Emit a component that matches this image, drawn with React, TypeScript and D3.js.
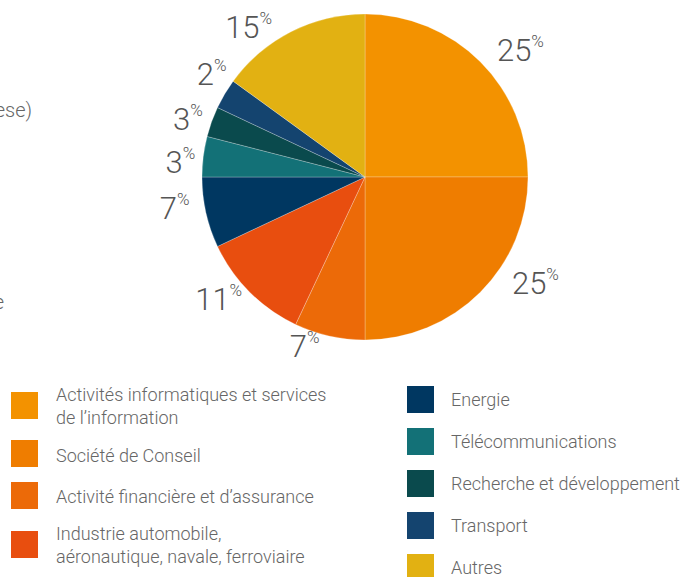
import React from "react";
import * as d3 from "d3";

const categories = [
  "Activités informatiques et services de l’information",
  "Société de Conseil",
  "Activité financière et d’assurance",
  "Industrie automobile, aéronautique, navale, ferroviaire",
  "Energie",
  "Télécommunications",
  "Recherche et développement",
  "Transport",
  "Autres",
];
const values = [25, 25, 7, 11, 7, 4, 3, 3, 15];
const labels = ["25", "25", "7", "11", "7", "3", "3", "2", "15"];
const colors = [
  "#F39200",
  "#EF7D00",
  "#EC6A08",
  "#E84E0F",
  "#003761",
  "#137177",
  "#0A4A4D",
  "#14446F",
  "#E2B112",
];
const legendLeftLines = [
  ["Activités informatiques et services", "de l’information"],
  ["Société de Conseil"],
  ["Activité financière et d’assurance"],
  ["Industrie automobile,", "aéronautique, navale, ferroviaire"],
];
const legendRightLines = [
  ["Energie"],
  ["Télécommunications"],
  ["Recherche et développement"],
  ["Transport"],
  ["Autres"],
];

// label layout tweaks (degrees / radius)
const labelAngleShift = [6, -13, 7, 5, 3, -3, -2, 3, -11];
const labelRadius = [200, 201, 180, 191, 193, 185, 186, 184, 189];

const FONT = "Roboto, 'Liberation Sans', Arial, sans-serif";

export default function App() {
  const W = 694;
  const H = 577;
  const cx = 365;
  const cy = 177;
  const R = 163;

  const pie = d3.pie<number>().sort(null).value((d) => d)(values);
  const arc = d3.arc<d3.PieArcDatum<number>>().innerRadius(0).outerRadius(R);

  return (
    <svg
      width={W}
      height={H}
      style={{ position: "absolute", left: 0, top: 0 }}
      fontFamily={FONT}
    >
      <rect width={W} height={H} fill="#fff" />
      {/* cut-off texts at the left edge */}
      <text x={32} y={117} textAnchor="end" fontSize={20} fontWeight={300} fill="#666">
        ese)
      </text>
      <text x={4} y={309} textAnchor="end" fontSize={20} fontWeight={300} fill="#666">
        e
      </text>

      <g transform={`translate(${cx},${cy})`}>
        {pie.map((p, i) => (
          <path
            key={i}
            d={arc(p) || ""}
            fill={colors[i]}
            stroke="rgba(255,255,255,0.35)"
            strokeWidth={0.7}
          />
        ))}
        {pie.map((p, i) => {
          const mid = (p.startAngle + p.endAngle) / 2 + (labelAngleShift[i] * Math.PI) / 180;
          const r = labelRadius[i];
          const x = Math.sin(mid) * r;
          const y = -Math.cos(mid) * r;
          return (
            <text
              key={"l" + i}
              x={x}
              y={y + 10}
              textAnchor="middle"
              fill="#555"
              fontWeight={300}
            >
              <tspan fontSize={31}>{labels[i]}</tspan>
              <tspan fontSize={17} dy={-14}>%</tspan>
            </text>
          );
        })}
      </g>

      {legendLeftLines.map((lines, i) => {
        const sqY = [392, 440, 482, 531][i];
        const baseY = [401, 462, 503, 540][i];
        return (
          <g key={"ll" + i}>
            <rect x={11} y={sqY} width={27} height={27} fill={colors[i]} />
            <text x={56} y={baseY} fontSize={18} fontWeight={300} fill="#666">
              {lines.map((t, j) => (
                <tspan key={j} x={56} dy={j === 0 ? 0 : 23}>
                  {t}
                </tspan>
              ))}
            </text>
          </g>
        );
      })}
      {legendRightLines.map((lines, i) => {
        const sqY = 386 + i * 42;
        return (
          <g key={"lr" + i}>
            <rect x={407} y={sqY} width={27} height={27} fill={colors[i + 4]} />
            <text x={451} y={sqY + 20} fontSize={18} fontWeight={300} fill="#666">
              {lines[0]}
            </text>
          </g>
        );
      })}
    </svg>
  );
}
